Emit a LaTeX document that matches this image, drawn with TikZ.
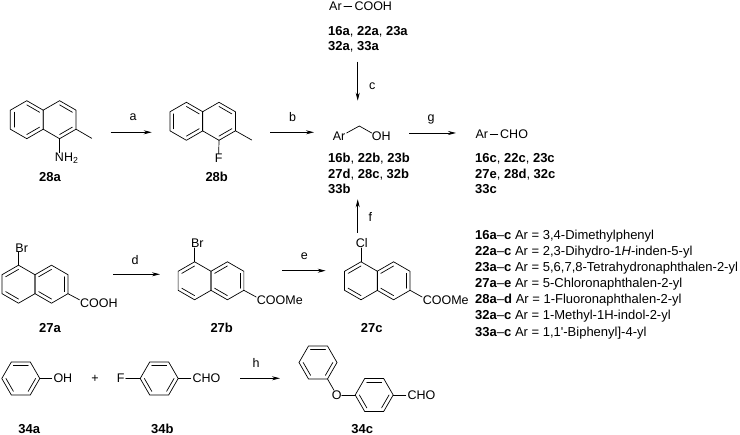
\documentclass[tikz,border=0pt]{standalone}
\usepackage{fontspec}
\setmainfont{Liberation Sans}
\newfontfamily\straightfont{Liberation Sans}
\usetikzlibrary{arrows.meta,calc,shapes.geometric}
\tikzset{
  bond/.style={line width=0.7pt,line cap=round},
  rxn/.style={line width=0.7pt,-{Stealth[length=8pt,width=4pt]}},
  ringnode/.style={regular polygon,regular polygon sides=6,draw,line width=0.7pt,
    minimum size=38pt,inner sep=0pt,outer sep=0pt},
  atom/.style={inner sep=0pt,text height=9pt,text depth=0pt,font=\fontsize{12.5}{14}\selectfont},
  cpd/.style={inner sep=0pt,text height=9.3pt,text depth=0pt,font=\fontsize{13}{15}\selectfont\bfseries},
  lst/.style={anchor=west,inner sep=0pt,text height=9.3pt,text depth=0pt,font=\fontsize{13}{15}\selectfont}
}
\begin{document}
\begin{tikzpicture}[x=1pt,y=-1pt]
  \useasboundingbox (0,0) rectangle (740,435);
  % rings
  \foreach \rname/\rx/\ry/\rrot/\dbl in {
    r28aL/26.8/119.7/30/{2/3,6/1,4/5},
    r28aR/59.6/119.7/30/{6/1,4/5},
    r28bL/186.4/121.3/30/{2/3,6/1,4/5},
    r28bR/219/121.3/30/{6/1,4/5},
    r27aL/18.5/284.2/30/{1/2,3/4},
    r27aR/51.5/284.2/30/{1/2,5/6,3/4},
    r27bL/194.6/280.8/30/{1/2,3/4},
    r27bR/227.4/280.8/30/{1/2,5/6,3/4},
    r27cL/361/280.8/30/{1/2,3/4},
    r27cR/393.6/280.8/30/{1/2,5/6,3/4},
    r34a/20.8/378.5/60/{1/6,4/5,2/3},
    r34b/159.2/378.5/60/{1/6,4/5,2/3},
    r34cT/318/362.5/60/{1/6,4/5,2/3},
    r34cR/374.2/395/60/{1/6,4/5,2/3}}{
    \node[ringnode,shape border rotate=\rrot] (\rname) at (\rx,\ry) {};
    \foreach \p/\q in \dbl
      \draw[bond] ($(\rname)!.78!(\rname.corner \p)$) -- ($(\rname)!.78!(\rname.corner \q)$);
  }
  % top row
  \node[atom,anchor=west] (arA) at (329,6.3) {Ar};
  \node[atom,anchor=west] (coohA) at (354.3,6.3) {COOH};
  \draw[bond,shorten <=2pt,shorten >=2.5pt] (arA.east) -- (coohA.west);
  \node[cpd,anchor=west] (l16a) at (328,31) {16a\textmd{,} 22a\textmd{,} 23a};
  \node[cpd,anchor=west] (l32a) at (328,46.3) {32a\textmd{,} 33a};
  \node[atom,anchor=west] (arB) at (332.7,136) {Ar};
  \node[atom,anchor=west] (ohB) at (371.7,136) {OH};
  \coordinate (benz) at (359.3,126);
  \draw[bond] ([shift={(1pt,3pt)}]arB.east) -- (benz) -- ([yshift=3pt]ohB.west);
  \node[cpd,anchor=west] (l16b) at (328,158.3) {16b\textmd{,} 22b\textmd{,} 23b};
  \node[cpd,anchor=west] (l27d) at (328,173.7) {27d\textmd{,} 28c\textmd{,} 32b};
  \node[cpd,anchor=west] (l33b) at (328,188.7) {33b};
  \node[atom,anchor=west] (arC) at (475.3,134) {Ar};
  \node[atom,anchor=west] (choC) at (500,134) {CHO};
  \draw[bond,shorten <=2pt,shorten >=2.3pt] (arC.east) -- (choC.west);
  \node[cpd,anchor=west] (l16c) at (475,158.3) {16c\textmd{,} 22c\textmd{,} 23c};
  \node[cpd,anchor=west] (l27e) at (475,173.7) {27e\textmd{,} 28d\textmd{,} 32c};
  \node[cpd,anchor=west] (l33c) at (475,188.7) {33c};
  % 28a, 28b
  \node[atom] (nh2) at (66.7,157.3) {NH\textsubscript{2}};
  \draw[bond] (r28aR.corner 4) -- (r28aR.corner 4 |- nh2.north);
  \coordinate (me28a) at (91.7,138.3);
  \draw[bond] (r28aR.corner 5) -- (me28a);
  \node[cpd] (l28a) at (50,176.7) {28a};
  \node[atom] (f28b) at (218.7,158.3) {F};
  \draw[bond] (r28bR.corner 4) -- (f28b.north);
  \coordinate (me28b) at (251.7,140);
  \draw[bond] (r28bR.corner 5) -- (me28b);
  \node[cpd] (l28b) at (216.7,176.7) {28b};
  % 27a, 27b, 27c
  \node[atom] (br27a) at (21.7,247.7) {Br};
  \draw[bond] (r27aL.corner 1) -- (r27aL.corner 1 |- br27a.south);
  \node[atom,anchor=west] (cooh27a) at (80,303.3) {COOH};
  \draw[bond] (r27aR.corner 5) -- ([shift={(-0.5pt,3.5pt)}]cooh27a.west);
  \node[cpd] (l27a) at (50,327.7) {27a};
  \node[atom] (br27b) at (197.3,243.3) {Br};
  \draw[bond] (r27bL.corner 1) -- (r27bL.corner 1 |- br27b.south);
  \node[atom,anchor=west] (coome27b) at (256.7,300) {COOMe};
  \draw[bond] (r27bR.corner 5) -- ([shift={(-0.5pt,3pt)}]coome27b.west);
  \node[cpd] (l27b) at (221.7,327.7) {27b};
  \node[atom] (cl27c) at (361.7,243.3) {Cl};
  \draw[bond] (r27cL.corner 1) -- (r27cL.corner 1 |- cl27c.south);
  \node[atom,anchor=west] (coome27c) at (422.6,300) {COOMe};
  \draw[bond] (r27cR.corner 5) -- ([shift={(-0.5pt,3pt)}]coome27c.west);
  \node[cpd] (l27c) at (371.7,327.7) {27c};
  % 34a, 34b, 34c
  \node[atom,anchor=west] (oh34a) at (53.3,378.5) {OH};
  \draw[bond] (r34a.corner 5) -- ([xshift=-1.5pt]oh34a.west);
  \node[atom] (plus) at (95,378.3) {+};
  \node[atom] (f34b) at (120.7,378.5) {F};
  \draw[bond] (r34b.corner 2) -- ([xshift=1pt]f34b.east);
  \node[atom,anchor=west] (cho34b) at (192.3,378.5) {CHO};
  \draw[bond] (r34b.corner 5) -- ([xshift=-1.5pt]cho34b.west);
  \node[cpd] (l34a) at (29.3,428.8) {34a};
  \node[cpd] (l34b) at (162.3,428.8) {34b};
  \node[atom] (o34c) at (336.7,395) {O};
  \draw[bond] (r34cT.corner 4) -- (o34c);
  \draw[bond] (o34c.east) -- (r34cR.corner 2);
  \node[atom,anchor=west] (cho34c) at (407.3,395) {CHO};
  \draw[bond] (r34cR.corner 5) -- ([xshift=-1.5pt]cho34c.west);
  \node[cpd] (l34c) at (362.3,428.8) {34c};
  % arrows
  \foreach \aname/\ax/\ay/\bx/\by/\lx/\ly in {
    a/110.7/132.3/151.7/132.3/133/116,
    b/270.3/132.3/314/132.3/292.7/117.3,
    c/357.7/61.7/357.7/100.7/372.3/84.7,
    d/113.3/274.3/160/274.3/135/260,
    e/282.3/270.7/325.7/270.7/304.3/254.7,
    f/357.7/232.7/357.7/199.3/370.3/217.3,
    g/409.3/133/456/133/431/116.7,
    h/240/378.3/280/378.3/256/363.3}{
    \coordinate (\aname1) at (\ax,\ay);
    \coordinate (\aname2) at (\bx,\by);
    \draw[rxn] (\aname1) -- (\aname2);
    \node[atom] (lab\aname) at (\lx,\ly) {\aname};
  }
  % Ar list
  \node[lst] (ar16) at (475,235) {\textbf{16a}--\textbf{c} Ar = 3,4-Dimethylphenyl};
  \node[lst] (ar22) at (475,250.7) {\textbf{22a}--\textbf{c} Ar = 2,3-Dihydro-1\textit{H}-inden-5-yl};
  \node[lst] (ar23) at (475,266.7) {\textbf{23a}--\textbf{c} Ar = 5,6,7,8-Tetrahydronaphthalen-2-yl};
  \node[lst] (ar27) at (475,282.7) {\textbf{27a}--\textbf{e} Ar = 5-Chloronaphthalen-2-yl};
  \node[lst] (ar28) at (475,299) {\textbf{28a}--\textbf{d} Ar = 1-Fluoronaphthalen-2-yl};
  \node[lst] (ar32) at (475,315) {\textbf{32a}--\textbf{c} Ar = 1-Methyl-1H-indol-2-yl};
  \node[lst] (ar33) at (475,331.7) {\textbf{33a}--\textbf{c} Ar = 1,1{\straightfont '}-Biphenyl]-4-yl};
\end{tikzpicture}
\end{document}
